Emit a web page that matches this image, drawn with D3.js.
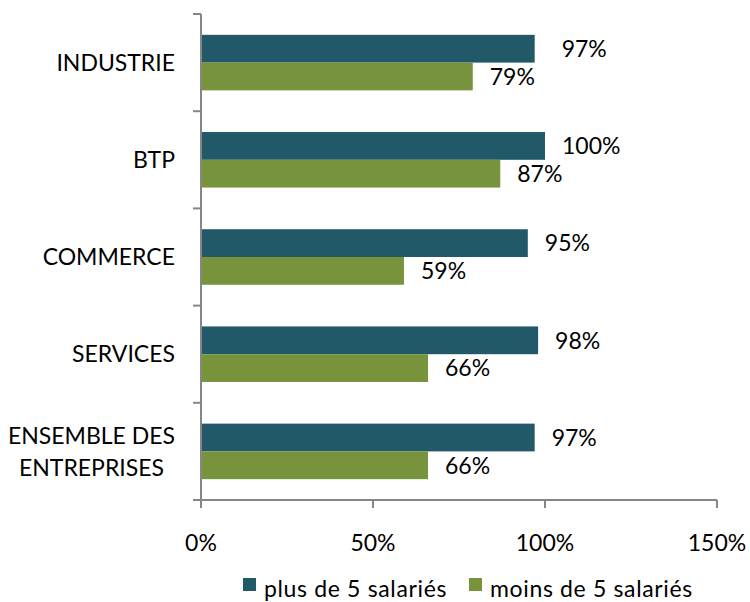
<!DOCTYPE html>
<html>
<head>
<meta charset="utf-8">
<script src="https://cdn.jsdelivr.net/npm/d3@7"></script>
<style>
  body { margin: 0; background: #fff; }
  svg text { font-family: Lato, 'Open Sans', sans-serif; fill: #000; }
</style>
</head>
<body>
<div id="chart"></div>
<script>
const categories = ['INDUSTRIE', 'BTP', 'COMMERCE', 'SERVICES', 'ENSEMBLE DES\nENTREPRISES']
const series = ['plus de 5 salariés', 'moins de 5 salariés']
const plus5 = [97, 100, 95, 98, 97]
const moins5 = [79, 87, 59, 66, 66]
const xTicks = [0, 50, 100, 150]

const colors = ['#215968', '#77933C']
const width = 750
const height = 602
const fontSize = 23

const svg = d3
  .select('#chart')
  .append('svg')
  .attr('width', width)
  .attr('height', height)

const x = d3.scaleLinear().domain([0, 150]).range([201, 717])

const y0 = d3.scaleBand().domain(categories).range([14, 500]).padding(0)

const y1 = d3
  .scaleBand()
  .domain(series)
  .range([0, y0.bandwidth()])
  .paddingInner(0)
  .paddingOuter(0.75)

const rows = categories.map((c, i) => ({
  cat: c,
  values: [
    { key: series[0], value: plus5[i] },
    { key: series[1], value: moins5[i] },
  ],
}))

// bars
const groups = svg
  .selectAll('g.cat')
  .data(rows)
  .enter()
  .append('g')
  .attr('class', 'cat')
  .attr('transform', d => 'translate(0,' + y0(d.cat) + ')')

groups
  .selectAll('rect')
  .data(d => d.values)
  .enter()
  .append('rect')
  .attr('x', x(0))
  .attr('y', d => y1(d.key))
  .attr('width', d => x(d.value) - x(0))
  .attr('height', y1.bandwidth())
  .attr('fill', (d, i) => colors[i])

// value labels (first one was pushed further right in the original)
groups
  .selectAll('text.val')
  .data((d, gi) => d.values.map((v, i) => Object.assign({ nudge: gi === 0 && i === 0 ? 10 : 0 }, v)))
  .enter()
  .append('text')
  .attr('class', 'val')
  .attr('x', d => x(d.value) + 17 + d.nudge)
  .attr('y', d => y1(d.key) + y1.bandwidth() / 2)
  .attr('dy', '0.36em')
  .style('font-size', fontSize + 'px')
  .text(d => d.value + '%')

// axes
const axisColor = '#868686'

const yAxis = svg.append('g')
yAxis
  .append('line')
  .attr('x1', x(0))
  .attr('x2', x(0))
  .attr('y1', y0.range()[0])
  .attr('y2', y0.range()[1] + 8)
  .attr('stroke', axisColor)
  .attr('stroke-width', 2)

const yTickPos = categories.map(c => y0(c)).concat([y0.range()[1]])
yAxis
  .selectAll('line.tick')
  .data(yTickPos)
  .enter()
  .append('line')
  .attr('class', 'tick')
  .attr('x1', x(0) - 8)
  .attr('x2', x(0))
  .attr('y1', d => d)
  .attr('y2', d => d)
  .attr('stroke', axisColor)
  .attr('stroke-width', 2)

const catLabels = yAxis
  .selectAll('text.cat')
  .data(categories)
  .enter()
  .append('text')
  .attr('class', 'cat')
  .style('font-size', fontSize + 'px')

catLabels.each(function(d) {
  const lines = d.split('\n')
  const t = d3.select(this)
  const lh = 32
  const cy = y0(d) + y0.bandwidth() / 2
  const right = x(0) - 26
  lines.forEach((l, i) => {
    t.append('tspan')
      .attr('y', cy + (i - (lines.length - 1) / 2) * lh)
      .attr('dy', '0.36em')
      .text(l)
  })
  if (lines.length === 1) {
    t.attr('text-anchor', 'end').selectAll('tspan').attr('x', right)
  } else {
    let maxW = 0
    t.selectAll('tspan').each(function() {
      maxW = Math.max(maxW, this.getComputedTextLength())
    })
    t.attr('text-anchor', 'middle').selectAll('tspan').attr('x', right - maxW / 2)
  }
})

const xAxis = svg.append('g')
xAxis
  .append('line')
  .attr('x1', x(0) - 8)
  .attr('x2', x(150))
  .attr('y1', y0.range()[1])
  .attr('y2', y0.range()[1])
  .attr('stroke', axisColor)
  .attr('stroke-width', 2)

xAxis
  .selectAll('line.tick')
  .data(xTicks)
  .enter()
  .append('line')
  .attr('class', 'tick')
  .attr('x1', d => x(d))
  .attr('x2', d => x(d))
  .attr('y1', y0.range()[1])
  .attr('y2', y0.range()[1] + 8)
  .attr('stroke', axisColor)
  .attr('stroke-width', 2)

xAxis
  .selectAll('text')
  .data(xTicks)
  .enter()
  .append('text')
  .attr('x', d => x(d))
  .attr('y', 551)
  .attr('text-anchor', 'middle')
  .style('font-size', fontSize + 'px')
  .text(d => d + '%')

// legend
const legendX = [243, 469]
const legend = svg
  .selectAll('g.legend')
  .data(series)
  .enter()
  .append('g')
  .attr('class', 'legend')
  .attr('transform', (d, i) => 'translate(' + legendX[i] + ',578)')

legend
  .append('rect')
  .attr('width', 13)
  .attr('height', 13)
  .attr('fill', (d, i) => colors[i])

legend
  .append('text')
  .attr('x', 21)
  .attr('y', 19)
  .style('font-size', fontSize + 'px')
  .style('letter-spacing', '0.65px')
  .text(d => d)
</script>
</body>
</html>
